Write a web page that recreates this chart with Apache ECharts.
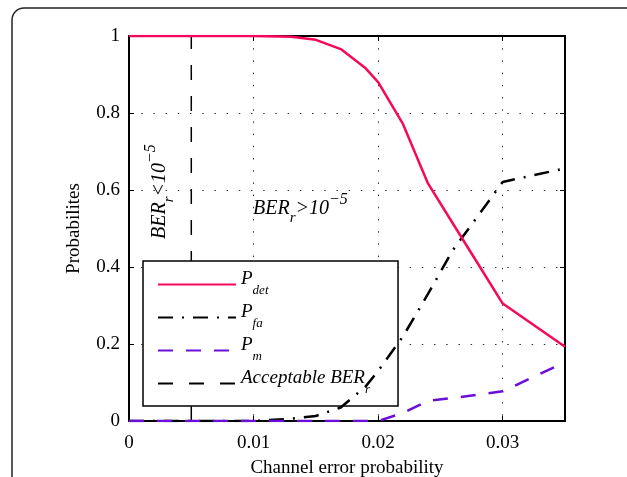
<!DOCTYPE html>
<html>
<head>
<meta charset="utf-8">
<script src="https://cdn.jsdelivr.net/npm/echarts@6/dist/echarts.min.js"></script>
<style>
  html, body { margin: 0; padding: 0; background: #fff; }
  #chart { width: 627px; height: 477px; }
</style>
</head>
<body>
<div id="chart"></div>
<script>
// Channel error probability (x) shared by the three detection curves
const channelError = [0, 0.005, 0.01, 0.013, 0.015, 0.017, 0.019, 0.02, 0.022, 0.024, 0.026, 0.028, 0.03, 0.035];
const pDet = [1, 1, 1, 0.998, 0.99, 0.966, 0.916, 0.88, 0.771, 0.617, 0.513, 0.409, 0.305, 0.193];
const pFa  = [0, 0, 0, 0.006, 0.013, 0.035, 0.09, 0.13, 0.22, 0.33, 0.444, 0.532, 0.621, 0.656];
const pM   = [0, 0, 0, 0, 0, 0, 0, 0, 0.021, 0.052, 0.06, 0.068, 0.077, 0.153];

// Acceptable residual BER threshold, drawn as a vertical line
const acceptableBer = 0.005;
const thresholdSpan = [0, 1];

const xTicks = [0, 0.01, 0.02, 0.03];
const yTicks = [0, 0.2, 0.4, 0.6, 0.8, 1];

const seriesNames = ['Pdet', 'Pfa', 'Pm', 'Acceptable'];
const legendLabels = {
  Pdet: '{p|P}{s|det}',
  Pfa: '{p|P}{s|fa}',
  Pm: '{p|P}{s|m}',
  Acceptable: '{p|Acceptable BER}{s|r}'
};

const serif = 'Liberation Serif, Times New Roman, serif';

const pairs = (xs, ys) => xs.map((x, i) => [x, ys[i]]);

const chart = echarts.init(document.getElementById('chart'), null, { renderer: 'canvas' });

const axisCommon = {
  type: 'value',
  axisLine: { show: true, onZero: false, lineStyle: { color: '#000', width: 2 } },
  axisTick: { show: true, inside: true, length: 5, lineStyle: { color: '#000', width: 1 } }
};

const gridDots = { show: true, lineStyle: { color: '#333', width: 1, type: [1.5, 10.7] } };

const annotationRich = {
  a: { fontFamily: serif, fontStyle: 'italic', fontSize: 20, lineHeight: 21, fill: '#000' },
  s: { fontFamily: serif, fontStyle: 'italic', fontSize: 15, lineHeight: 16, padding: [18, 0, 0, 0], fill: '#000' },
  u: { fontFamily: serif, fontStyle: 'italic', fontSize: 16, lineHeight: 17, padding: [0, 0, 18, 0], fill: '#000' }
};

const option = {
  animation: false,
  backgroundColor: '#fff',
  grid: {
    left: 129, top: 36, width: 436, height: 385, show: false,
    containLabel: false, outerBoundsMode: 'none'
  },
  xAxis: [
    Object.assign({}, axisCommon, {
      min: 0, max: 0.035, interval: 0.01, position: 'bottom',
      splitLine: gridDots,
      axisLabel: {
        show: true, color: '#000', fontFamily: serif, fontSize: 19, margin: 13,
        showMaxLabel: false,
        formatter: v => {
          const t = xTicks.find(k => Math.abs(k - v) < 1e-9);
          return t === undefined ? '' : String(t);
        }
      },
      name: 'Channel error probability',
      nameLocation: 'middle',
      nameGap: 38,
      nameTextStyle: { color: '#000', fontFamily: serif, fontSize: 19 }
    }),
    Object.assign({}, axisCommon, {
      min: 0, max: 0.035, interval: 0.01, position: 'top',
      splitLine: { show: false }, axisLabel: { show: false }
    })
  ],
  yAxis: [
    Object.assign({}, axisCommon, {
      min: 0, max: 1, interval: 0.2, position: 'left',
      splitLine: gridDots,
      axisLabel: {
        show: true, color: '#000', fontFamily: serif, fontSize: 19, margin: 9,
        formatter: v => {
          const t = yTicks.find(k => Math.abs(k - v) < 1e-9);
          return t === undefined ? '' : String(t);
        }
      },
      name: 'Probabilites',
      nameLocation: 'middle',
      nameGap: 45,
      nameTextStyle: { color: '#000', fontFamily: serif, fontSize: 19 }
    }),
    Object.assign({}, axisCommon, {
      min: 0, max: 1, interval: 0.2, position: 'right',
      splitLine: { show: false }, axisLabel: { show: false }
    })
  ],
  legend: {
    data: seriesNames,
    orient: 'vertical',
    left: 143, top: 261,
    itemWidth: 78, itemHeight: 14, itemGap: 2,
    padding: [8, 28, 7, 14],
    backgroundColor: '#fff',
    borderColor: '#000', borderWidth: 1.5,
    selectedMode: false,
    itemStyle: { opacity: 0 },
    formatter: name => legendLabels[name],
    textStyle: {
      color: '#000',
      rich: {
        p: { fontFamily: serif, fontStyle: 'italic', fontSize: 19, lineHeight: 20, padding: [0, 0, 12, 0], color: '#000' },
        s: { fontFamily: serif, fontStyle: 'italic', fontSize: 13, lineHeight: 14, padding: [12, 0, 0, 0], color: '#000' }
      }
    }
  },
  series: [
    {
      name: 'Pdet', type: 'line', symbol: 'none', silent: true,
      data: pairs(channelError, pDet),
      lineStyle: { color: '#f5095c', width: 2.5, type: 'solid' },
      itemStyle: { color: '#f5095c' }, z: 5
    },
    {
      name: 'Pfa', type: 'line', symbol: 'none', silent: true,
      data: pairs(channelError, pFa),
      lineStyle: { color: '#000', width: 2.5, type: [15, 9, 2, 9] },
      itemStyle: { color: '#000' }, z: 4
    },
    {
      name: 'Pm', type: 'line', symbol: 'none', silent: true,
      data: pairs(channelError, pM),
      lineStyle: { color: '#6a0fd8', width: 2.5, type: [15, 13] },
      itemStyle: { color: '#6a0fd8' }, z: 4
    },
    {
      name: 'Acceptable', type: 'line', symbol: 'none', silent: true,
      data: thresholdSpan.map(y => [acceptableBer, y]),
      lineStyle: { color: '#000', width: 1.5, type: [15, 16] },
      itemStyle: { color: '#000' }, z: 3
    }
  ],
  graphic: [
    {
      // rounded frame around the figure
      type: 'rect', silent: true, z: 0,
      shape: { x: 12, y: 8, width: 720, height: 600, r: [12, 0, 0, 0] },
      style: { fill: 'none', stroke: '#222', lineWidth: 1.5 }
    },
    {
      type: 'text', silent: true, z: 10,
      x: 253, y: 209,
      style: {
        text: '{a|BER}{s|r}{a|>10}{u|−5}',
        align: 'left', verticalAlign: 'middle', fill: '#000',
        rich: annotationRich
      }
    },
    {
      type: 'text', silent: true, z: 10,
      x: 160, y: 239, rotation: Math.PI / 2,
      style: {
        text: '{a|BER}{s|r}{a|<10}{u|−5}',
        align: 'left', verticalAlign: 'middle', fill: '#000',
        rich: annotationRich
      }
    }
  ]
};

chart.setOption(option);
</script>
</body>
</html>
